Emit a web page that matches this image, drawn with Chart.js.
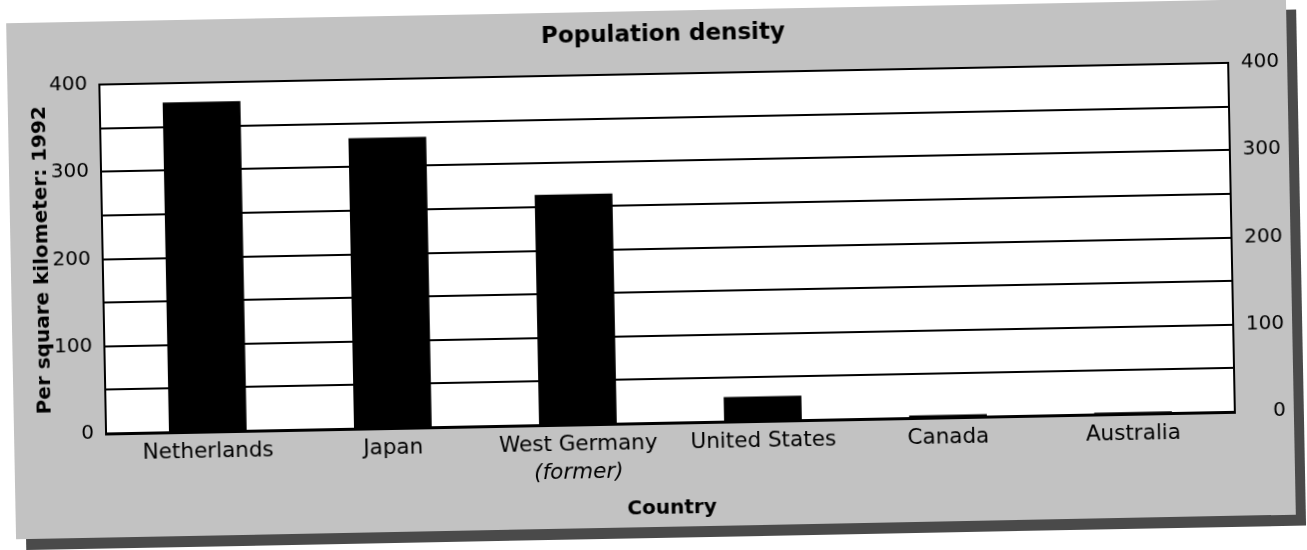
<!DOCTYPE html>
<html>
<head>
<meta charset="utf-8">
<script src="https://cdn.jsdelivr.net/npm/chart.js@4/dist/chart.umd.min.js"></script>
<style>
  html, body { margin: 0; padding: 0; background: #fff; overflow: hidden; }
  #panel {
    position: absolute; left: 11px; top: 11px; width: 1280px; height: 516px;
    background: #c2c2c2;
    box-shadow: 10px 11px 0 #4a4a4a;
    transform: rotate(-1.1deg);
    transform-origin: 50% 50%;
  }
  canvas { display: block; }
</style>
</head>
<body>
<div id="panel"><canvas id="grafico" width="1280" height="516"></canvas></div>
<script>
const paises = ['Netherlands', 'Japan', 'West Germany', 'United States', 'Canada', 'Australia'];
const subRotulos = ['', '', '(former)', '', '', ''];
const densidade = [378, 333, 264, 28, 3, 2];
const ticksY = [0, 100, 200, 300, 400];
const passoGrade = 50;

const fonte = 'DejaVu Sans';
const margemX = 0.55; // folga antes da primeira e depois da última barra

// fundo branco só dentro da área do gráfico
const fundoArea = {
  id: 'fundoArea',
  beforeDraw(chart) {
    const { ctx, chartArea: a } = chart;
    ctx.save();
    ctx.fillStyle = '#fff';
    ctx.fillRect(a.left, a.top, a.right - a.left, a.bottom - a.top);
    ctx.restore();
  }
};

function rotuloY(v) {
  return ticksY.includes(v) ? String(v) : '';
}

function ticksPaises(s) {
  s.ticks = paises.map((_, i) => ({ value: i }));
}

const pontos = densidade.map((v, i) => ({ x: i, y: v }));

new Chart(document.getElementById('grafico'), {
  type: 'bar',
  data: {
    datasets: [{
      data: pontos,
      backgroundColor: '#000',
      borderWidth: 0,
      barPercentage: 0.42,
      categoryPercentage: 1,
      xAxisID: 'x',
      yAxisID: 'y'
    }]
  },
  options: {
    responsive: false,
    animation: false,
    layout: { padding: { left: 0, right: 8, top: 0, bottom: 2 } },
    plugins: {
      legend: { display: false },
      tooltip: { enabled: false },
      title: {
        display: true,
        fullSize: false,
        text: 'Population density',
        color: '#000',
        font: { family: fonte, size: 23, weight: 'bold' },
        padding: { top: 10.2, bottom: 25.2 }
      }
    },
    scales: {
      x: {
        type: 'linear',
        position: 'bottom',
        offset: false,
        min: -margemX, max: paises.length - 1 + margemX,
        grid: { display: false, drawTicks: false },
        border: { display: true, color: '#000', width: 3 },
        afterBuildTicks: ticksPaises,
        ticks: {
          color: '#000', autoSkip: false, maxRotation: 0, padding: 8,
          font: { family: fonte, size: 21.5 },
          callback: v => paises[v] ?? ''
        },
        afterFit(s) { s.height = 36; }
      },
      x2: {
        type: 'linear',
        position: 'bottom',
        offset: false,
        min: -margemX, max: paises.length - 1 + margemX,
        grid: { display: false, drawTicks: false },
        border: { display: false },
        afterBuildTicks: ticksPaises,
        ticks: {
          color: '#000', autoSkip: false, maxRotation: 0, padding: 0,
          font: { family: fonte, size: 21.5, style: 'italic' },
          callback: v => subRotulos[v] ?? ''
        },
        title: {
          display: true, text: 'Country', color: '#000',
          font: { family: fonte, size: 20, weight: 'bold' },
          padding: { top: 0, bottom: 4.6 }
        },
        afterFit(s) { s.height = 66; }
      },
      y: {
        position: 'left',
        min: 0, max: 400,
        grid: { color: '#000', lineWidth: 2, drawTicks: false },
        border: { display: true, color: '#000', width: 2 },
        ticks: {
          stepSize: passoGrade, color: '#000', padding: 12,
          font: { family: fonte, size: 20 },
          callback: rotuloY
        },
        title: {
          display: true, text: 'Per square kilometer: 1992', color: '#000',
          font: { family: fonte, size: 20, weight: 'bold' },
          padding: { top: 20, bottom: 0 }
        },
        afterFit(s) { s.width = 92; }
      },
      y2: {
        position: 'right',
        min: 0, max: 400,
        grid: { display: false, drawTicks: false },
        border: { display: true, color: '#000', width: 2 },
        ticks: {
          stepSize: passoGrade, color: '#000', crossAlign: 'far',
          font: { family: fonte, size: 20 },
          callback: rotuloY
        },
        afterFit(s) { s.width = 51; }
      }
    }
  },
  plugins: [fundoArea]
});
</script>
</body>
</html>
